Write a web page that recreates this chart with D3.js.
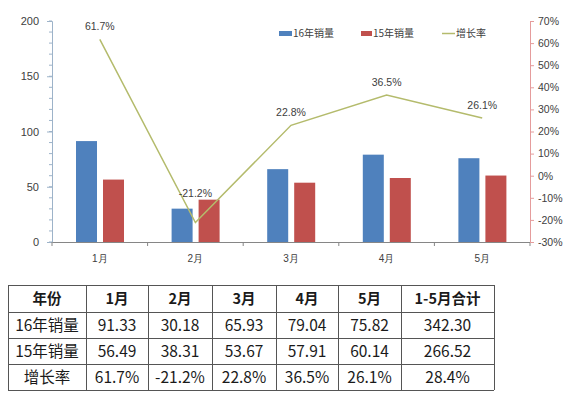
<!DOCTYPE html>
<html lang="zh">
<head>
<meta charset="UTF-8">
<title>1-5月销量</title>
<style>
  body { margin: 0; background: #fff; }
  svg { display: block; font-family: "Noto Sans CJK SC", "Noto Sans", sans-serif; }
  .tick text { fill: #404040; }
</style>
</head>
<body>
<svg width="569" height="397"></svg>
<script src="https://d3js.org/d3.v7.min.js"></script>
<script>
  const months = ["1月", "2月", "3月", "4月", "5月"];
  const sales16 = [91.33, 30.18, 65.93, 79.04, 75.82];
  const sales15 = [56.49, 38.31, 53.67, 57.91, 60.14];
  const growth = [61.7, -21.2, 22.8, 36.5, 26.1];
  const totals = { s16: 342.30, s15: 266.52, growth: 28.4 };
  const leftTicks = [0, 50, 100, 150, 200];
  const rightTicks = [-30, -20, -10, 0, 10, 20, 30, 40, 50, 60, 70];

  const svg = d3.select("svg");
  const plotL = 52, plotR = 530, plotT = 21, plotB = 242;

  const x = d3.scaleBand().domain(months).range([plotL, plotR]);
  const x1 = d3.scaleBand().domain(["s16", "s15"]).range([24, 72]).paddingInner(0.222);
  const y = d3.scaleLinear().domain([0, 200]).range([plotB, plotT]);
  const y2 = d3.scaleLinear().domain([-30, 70]).range([plotB, plotT]);

  const blue = "#4f81bd", red = "#c0504d", green = "#b4bb6c";

  // bars
  const groups = svg.append("g").selectAll("g")
    .data(months)
    .join("g")
    .attr("transform", d => `translate(${x(d)},0)`);
  groups.append("rect")
    .attr("x", x1("s16")).attr("width", x1.bandwidth())
    .attr("y", (d, i) => y(sales16[i])).attr("height", (d, i) => y(0) - y(sales16[i]))
    .attr("fill", blue);
  groups.append("rect")
    .attr("x", x1("s15")).attr("width", x1.bandwidth())
    .attr("y", (d, i) => y(sales15[i])).attr("height", (d, i) => y(0) - y(sales15[i]))
    .attr("fill", red);

  // left axis
  const minor = d3.range(0, 201, 10);
  svg.append("g").selectAll("line").data(minor).join("line")
    .attr("x1", plotL - 3).attr("x2", plotL)
    .attr("y1", d => y(d)).attr("y2", d => y(d))
    .attr("stroke", "#9db3c9");
  const la = svg.append("g")
    .attr("transform", `translate(${plotL},0)`)
    .call(d3.axisLeft(y).tickValues(leftTicks).tickSize(5).tickPadding(8));
  la.select(".domain").attr("stroke", "#9db3c9");
  la.selectAll(".tick line").attr("stroke", "#9db3c9");
  la.selectAll("text").style("font-size", "11px").style("font-family", "'Liberation Sans', sans-serif");

  // x axis
  const xa = svg.append("g")
    .attr("transform", `translate(0,${plotB})`)
    .call(d3.axisBottom(x).tickSize(0).tickPadding(13));
  xa.select(".domain").attr("stroke", "#868686");
  xa.selectAll("text").style("font-size", "10px");
  svg.append("g").selectAll("line").data(d3.range(0, 6)).join("line")
    .attr("x1", i => plotL + i * x.step()).attr("x2", i => plotL + i * x.step())
    .attr("y1", plotB).attr("y2", plotB + 4)
    .attr("stroke", "#868686");

  // right axis
  const ra = svg.append("g")
    .attr("transform", `translate(${plotR},0)`)
    .call(d3.axisRight(y2).tickValues(rightTicks).tickSize(4).tickPadding(4).tickFormat(d => d + "%"));
  ra.select(".domain").attr("stroke", "#e59c9c");
  ra.selectAll(".tick line").attr("stroke", "#e59c9c");
  ra.selectAll("text").style("font-size", "10.5px").style("font-family", "'Liberation Sans', sans-serif");

  // growth line
  const cx = (d, i) => x(months[i]) + x.bandwidth() / 2;
  svg.append("path")
    .datum(growth)
    .attr("d", d3.line().x(cx).y(d => y2(d)))
    .attr("fill", "none").attr("stroke", green).attr("stroke-width", 1.5);
  svg.append("g").selectAll("text").data(growth).join("text")
    .attr("x", cx)
    .attr("y", (d, i) => y2(d) - (i === 1 ? 26 : 9))
    .attr("text-anchor", "middle")
    .attr("fill", "#404040")
    .style("font-size", "10.5px")
    .style("font-family", "'Liberation Sans', sans-serif")
    .text(d => d.toFixed(1) + "%");

  // legend
  const legend = svg.append("g").style("font-size", "10px").attr("fill", "#404040");
  legend.append("rect").attr("x", 279).attr("y", 31).attr("width", 13).attr("height", 5).attr("fill", blue);
  legend.append("text").attr("x", 293).attr("y", 37).text("16年销量");
  legend.append("rect").attr("x", 361).attr("y", 31).attr("width", 11).attr("height", 5).attr("fill", red);
  legend.append("text").attr("x", 373).attr("y", 37).text("15年销量");
  legend.append("line").attr("x1", 442).attr("x2", 455).attr("y1", 33.5).attr("y2", 33.5).attr("stroke", green).attr("stroke-width", 1.5);
  legend.append("text").attr("x", 456).attr("y", 37).text("增长率");

  // table
  const header = ["年份"].concat(months, ["1-5月合计"]);
  const rows = [
    ["16年销量"].concat(sales16.map(d => d.toFixed(2)), [totals.s16.toFixed(2)]),
    ["15年销量"].concat(sales15.map(d => d.toFixed(2)), [totals.s15.toFixed(2)]),
    ["增长率"].concat(growth.map(d => d.toFixed(1) + "%"), [totals.growth.toFixed(1) + "%"])
  ];
  const colX = [8, 86, 148, 212, 276, 338, 401, 494];
  const rowY = [285, 312, 338, 364, 390];
  const table = svg.append("g");
  [header].concat(rows).forEach((row, r) => {
    row.forEach((cell, c) => {
      table.append("text")
        .attr("x", (colX[c] + colX[c + 1]) / 2)
        .attr("y", (rowY[r] + rowY[r + 1]) / 2 + 5.5)
        .attr("text-anchor", "middle")
        .attr("fill", "#1a1a1a")
        .style("font-size", r === 0 ? "14.5px" : "15.5px")
        .style("font-weight", r === 0 ? "bold" : "normal")
        .text(cell);
    });
  });
  table.selectAll("line.v").data(colX).join("line")
    .attr("x1", d => d).attr("x2", d => d).attr("y1", rowY[0]).attr("y2", rowY[4])
    .attr("stroke", "#555").attr("shape-rendering", "crispEdges");
  table.selectAll("line.h").data(rowY).join("line")
    .attr("x1", colX[0]).attr("x2", colX[7]).attr("y1", d => d).attr("y2", d => d)
    .attr("stroke", "#555").attr("shape-rendering", "crispEdges");
</script>
</body>
</html>
